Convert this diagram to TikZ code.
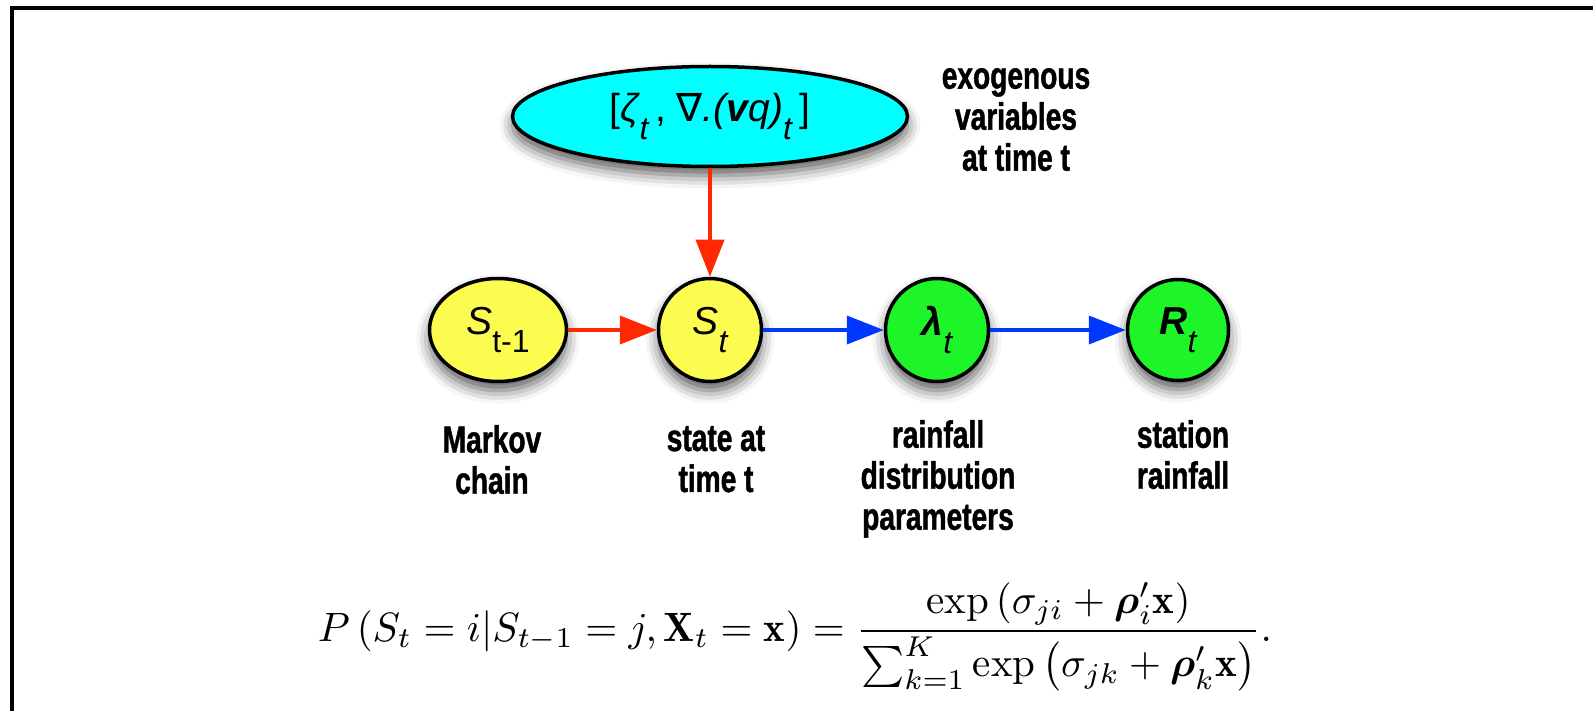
\documentclass[tikz,border=0pt]{standalone}
\usepackage{fontspec}
\usepackage{amsmath,bm}
\usepackage{graphicx}
\usetikzlibrary{arrows.meta,shapes.geometric,shadows.blur}
\newfontfamily\lsans{Liberation Sans}
\newfontfamily\djv{DejaVu Sans}
\newfontfamily\cond[FakeStretch=0.74,FakeBold=1.2]{Liberation Sans Bold}
\definecolor{cyanfill}{RGB}{0,255,255}
\definecolor{yel}{RGB}{252,252,80}
\definecolor{grn}{RGB}{30,245,40}
\definecolor{redarr}{RGB}{255,40,0}
\definecolor{bluearr}{RGB}{0,55,255}
\newcommand{\sbs}[1]{\raisebox{-18pt}{\fontsize{32}{32}\selectfont #1}}
\begin{document}
\begin{tikzpicture}[x=1pt,y=-1pt,
  nd/.style={draw=black, line width=3.5pt, inner sep=0pt,
    blur shadow={shadow xshift=0pt, shadow yshift=-9pt, shadow blur radius=13pt, shadow opacity=65},
    font=\fontsize{39}{44}\selectfont\lsans},
  ellnode/.style={nd, ellipse},
  circnode/.style={nd, circle, minimum size=103pt},
  lab/.style={font=\fontsize{38}{41}\selectfont\cond, align=center, inner sep=0pt, anchor=north},
  redline/.style={draw=redarr, line width=3.8pt, -{Triangle[length=37pt,width=28pt,fill=redarr]}},
  blueline/.style={draw=bluearr, line width=3.8pt, -{Triangle[length=37pt,width=28pt,fill=bluearr]}},
  frame/.style={draw=black, line width=3.5pt}
]
\useasboundingbox (0,0) rectangle (1593,711);
\draw[frame] (1593,8) -- (12,8) -- (12,711);

\node[ellnode, fill=cyanfill, minimum width=395pt, minimum height=100pt] (ex) at (710,116.5)
  {[\textit{ζ}\sbs{\itshape t}\,, {\djv\itshape ∇}\textit{.(\textbf{v}q)}\sbs{\itshape t}\hspace{8pt}]};

\node[ellnode, fill=yel, minimum width=137pt, minimum height=103pt] (sm) at (498,330)
  {\textit{S}\sbs{t-1}};
\node[circnode, fill=yel] (st) at (710,330) {\textit{S}\sbs{\itshape t}};
\node[circnode, fill=grn] (lam) at (937,330) {\textbf{\textit{λ}}\sbs{\itshape t}};
\node[circnode, fill=grn, minimum size=101pt] (rt) at (1178,330) {\textbf{\textit{R}}\sbs{\itshape t}};

\draw[redline] (ex.south) -- (st.north);
\draw[redline] (sm.east) -- (st.west);
\draw[blueline] (st.east) -- (lam.west);
\draw[blueline] (lam.east) -- (rt.west);

\node[lab] (exlab) at (1016,68) {exogenous\\variables\\at time t};
\node[lab] (l1) at (492,425) {Markov\\chain};
\node[lab] (l2) at (716,426) {state at\\time t};
\node[lab] (l3) at (938,420) {rainfall\\distribution\\parameters};
\node[lab] (l4) at (1183,420) {station\\rainfall};

\node[inner sep=0pt] (eq) at (795,637) {\resizebox{954pt}{!}{$\displaystyle
  P\left(S_t = i | S_{t-1} = j, \mathbf{X}_t = \mathbf{x}\right) =
  \frac{\exp\left(\sigma_{ji} + \bm{\rho}'_i\mathbf{x}\right)}
       {\sum_{k=1}^K \exp\,\bigl(\sigma_{jk} + \bm{\rho}'_k\mathbf{x}\bigr)}.$}};
\end{tikzpicture}
\end{document}
